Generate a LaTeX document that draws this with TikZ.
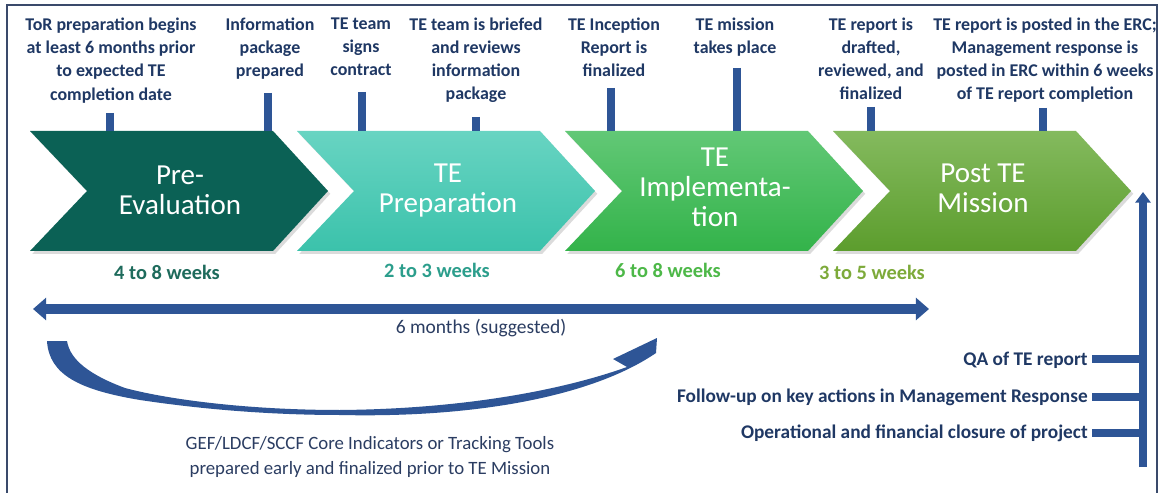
\documentclass[tikz,border=0pt]{standalone}
\usepackage{fontspec}
\setmainfont{Carlito}
\usetikzlibrary{arrows.meta,shadows}
\definecolor{labnavy}{HTML}{1F3864}
\definecolor{arrblue}{HTML}{2E5596}
\definecolor{framec}{HTML}{3A4A6B}
\definecolor{cA}{HTML}{0B6155}
\definecolor{cBt}{HTML}{68D4C2}
\definecolor{cBb}{HTML}{3BC2AB}
\definecolor{cCt}{HTML}{62C876}
\definecolor{cCb}{HTML}{33B34A}
\definecolor{cDt}{HTML}{84BA5E}
\definecolor{cDb}{HTML}{5C9D2D}
\definecolor{dA}{HTML}{1E6B5C}
\definecolor{dB}{HTML}{2C9E8C}
\definecolor{dC}{HTML}{4DB848}
\definecolor{dD}{HTML}{7DAA3A}
\definecolor{midtext}{HTML}{2B3D62}
\newcommand\fTop{\fontsize{10.2}{13.2}\selectfont\bfseries}
\newcommand\fChev{\fontsize{16.5}{17}\selectfont}
\newcommand\fDur{\fontsize{11.6}{13}\selectfont\bfseries}
\newcommand\fMid{\fontsize{11.1}{14.5}\selectfont}
\newcommand\fBot{\fontsize{10.7}{14.5}\selectfont}
\newcommand\fSide{\fontsize{11}{13}\selectfont\bfseries}
\tikzset{
  toplab/.style={font=\fTop, text=labnavy, align=center, anchor=north, inner sep=0pt},
  stick/.style={draw=arrblue, line width=4pt},
  chevshadow/.style={drop shadow={opacity=0.28, shadow xshift=1.3pt, shadow yshift=-1.6pt}},
  chevtext/.style={font=\fChev, text=white, align=center, anchor=north, inner sep=0pt},
  durlab/.style={font=\fDur, anchor=base, inner sep=0pt},
  sidelab/.style={font=\fSide, text=labnavy, anchor=base east, inner sep=0pt},
  tick/.style={draw=arrblue, line width=5pt},
}
\begin{document}
\begin{tikzpicture}[x=0.02cm,y=-0.02cm]
\useasboundingbox (0,0) rectangle (1163,493);
\fill[white] (0,0) rectangle (1163,493);
% frame
\draw[framec, line width=0.9pt] (7,493) -- (7,5) -- (1157,5) -- (1157,493);

% chevrons
\path[chevshadow, fill=cA] (30,131) -- (273,131) -- (328,191) -- (273,251) -- (30,251) -- (87,191) -- cycle;
\path[chevshadow, top color=cBt, bottom color=cBb] (297,131) -- (540,131) -- (595,191) -- (540,251) -- (297,251) -- (354,191) -- cycle;
\path[chevshadow, top color=cCt, bottom color=cCb] (565,131) -- (808,131) -- (863,191) -- (808,251) -- (565,251) -- (622,191) -- cycle;
\path[chevshadow, top color=cDt, bottom color=cDb] (833,131) -- (1076,131) -- (1131,191) -- (1076,251) -- (833,251) -- (890,191) -- cycle;

\node[chevtext] (p1) at (180,166) {Pre-\\Evaluation};
\node[chevtext] (p2) at (448,164) {TE\\Preparation};
\node[chevtext] (p3) at (715,148) {TE\\Implementa-\\tion};
\node[chevtext] (p4) at (983,164) {Post TE\\Mission};

% top labels
\node[toplab] (l1) at (111,17.5) {ToR preparation begins\\at least 6 months prior\\to expected TE\\completion date};
\node[toplab] (l2) at (270,17.5) {Information\\package\\prepared};
\node[toplab] (l3) at (361,17.5) {TE team\\signs\\contract};
\node[toplab] (l4) at (476,17.5) {TE team is briefed\\and reviews\\information\\package};
\node[toplab] (l5) at (614,17.5) {TE Inception\\Report is\\finalized};
\node[toplab] (l6) at (735,17.5) {TE mission\\takes place};
\node[toplab] (l7) at (871,17.5) {TE report is\\drafted,\\reviewed, and\\finalized};
\node[toplab] (l8) at (1045,17.5) {TE report is posted in the ERC;\\Management response is\\posted in ERC within 6 weeks\\of TE report completion};

% sticks
\coordinate (s1t) at (110,113);  \coordinate (s1b) at (110,131);
\coordinate (s2t) at (268,93);   \coordinate (s2b) at (268,131);
\coordinate (s3t) at (362,92);   \coordinate (s3b) at (362,131);
\coordinate (s4t) at (476,117);  \coordinate (s4b) at (476,131);
\coordinate (s5t) at (611,88);   \coordinate (s5b) at (611,131);
\coordinate (s6t) at (737,68);   \coordinate (s6b) at (737,131);
\coordinate (s7t) at (871,107);  \coordinate (s7b) at (871,131);
\coordinate (s8t) at (1043,108); \coordinate (s8b) at (1043,131);
\foreach \i in {1,...,8} { \draw[stick] (s\i t) -- (s\i b); }

% durations
\node[durlab, text=dA] (d1) at (167,279) {4 to 8 weeks};
\node[durlab, text=dB] (d2) at (437,277) {2 to 3 weeks};
\node[durlab, text=dC] (d3) at (668,277) {6 to 8 weeks};
\node[durlab, text=dD] (d4) at (872,279) {3 to 5 weeks};

% six months double arrow
\coordinate (ml) at (33,309);
\coordinate (mr) at (929,309);
\draw[arrblue, line width=5.3pt, {Triangle[width=12.5pt,length=7.5pt]}-{Triangle[width=12.5pt,length=7.5pt]}] (ml) -- (mr);
\node[font=\fMid, text=midtext, anchor=base, inner sep=0pt] (six) at (481,334) {6 months (suggested)};

% curved arrow
\fill[arrblue] (47,341) .. controls (49,375) and (80,390) .. (140,400)
  .. controls (220,412) and (290,415) .. (340,415)
  .. controls (470,418) and (590,398) .. (656,353)
  -- (657,338) -- (613,359) -- (627,367)
  .. controls (560,391) and (460,409) .. (340,410)
  .. controls (250,410) and (170,400) .. (125,388)
  .. controls (90,375) and (70,360) .. (67,341) -- cycle;
\node[font=\fBot, text=midtext, align=center, anchor=north, inner sep=0pt] (gef) at (370,436)
  {GEF/LDCF/SCCF Core Indicators or Tracking Tools\\prepared early and finalized prior to TE Mission};

% right vertical arrow and ticks
\coordinate (vb) at (1143,467);
\coordinate (vt) at (1143,192);
\draw[arrblue, line width=4.3pt, -{Triangle[width=8.5pt,length=6pt]}] (vb) -- (vt);
\node[sidelab] (q1) at (1088,365) {QA of TE report};
\node[sidelab] (q2) at (1088,402) {Follow-up on key actions in Management Response};
\node[sidelab] (q3) at (1088,438) {Operational and financial closure of project};
\coordinate (k1) at (1145,359); \coordinate (k2) at (1145,397); \coordinate (k3) at (1145,433);
\draw[tick] (q1.east |- k1) ++(4,0) -- (k1);
\draw[tick] (q2.east |- k2) ++(4,0) -- (k2);
\draw[tick] (q3.east |- k3) ++(4,0) -- (k3);
\end{tikzpicture}
\end{document}
